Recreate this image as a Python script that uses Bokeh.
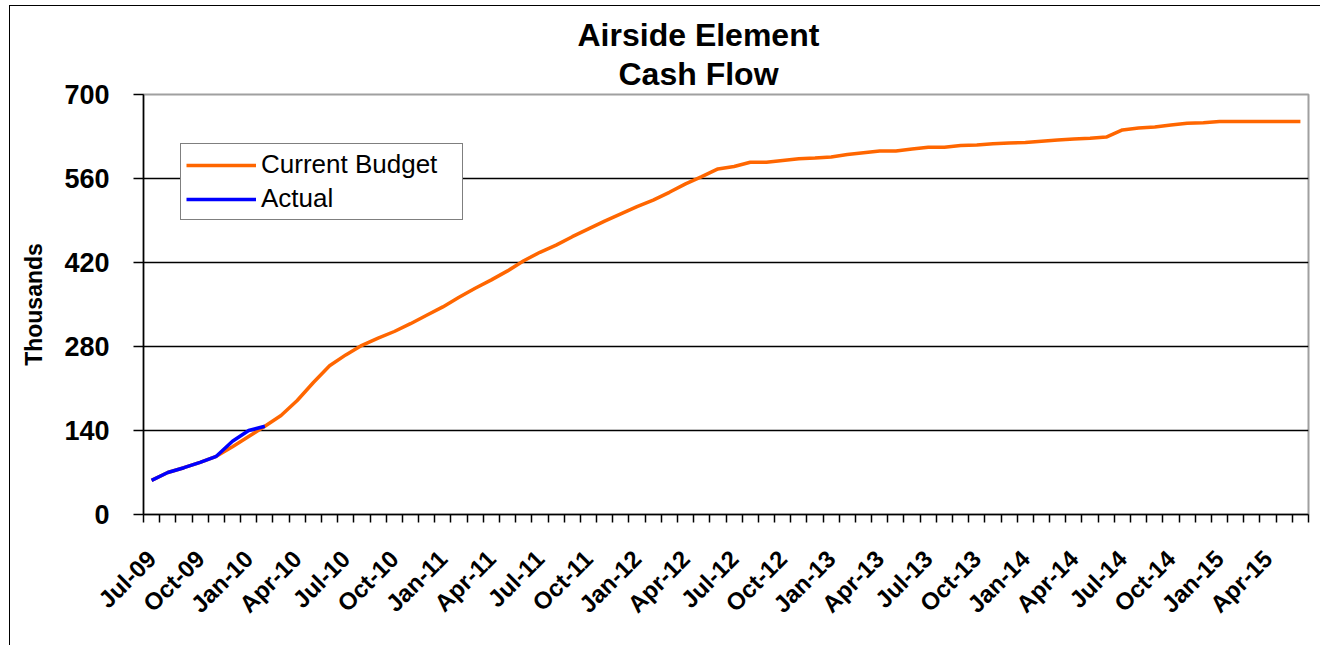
import math
from bokeh.plotting import figure
from bokeh.models import Range1d, FixedTicker, Legend, LegendItem, Title
from bokeh.embed import file_html
from bokeh.resources import INLINE

# ---- data ----
months = [
    "Jul-09", "Aug-09", "Sep-09", "Oct-09", "Nov-09", "Dec-09",
    "Jan-10", "Feb-10", "Mar-10", "Apr-10", "May-10", "Jun-10",
    "Jul-10", "Aug-10", "Sep-10", "Oct-10", "Nov-10", "Dec-10",
    "Jan-11", "Feb-11", "Mar-11", "Apr-11", "May-11", "Jun-11",
    "Jul-11", "Aug-11", "Sep-11", "Oct-11", "Nov-11", "Dec-11",
    "Jan-12", "Feb-12", "Mar-12", "Apr-12", "May-12", "Jun-12",
    "Jul-12", "Aug-12", "Sep-12", "Oct-12", "Nov-12", "Dec-12",
    "Jan-13", "Feb-13", "Mar-13", "Apr-13", "May-13", "Jun-13",
    "Jul-13", "Aug-13", "Sep-13", "Oct-13", "Nov-13", "Dec-13",
    "Jan-14", "Feb-14", "Mar-14", "Apr-14", "May-14", "Jun-14",
    "Jul-14", "Aug-14", "Sep-14", "Oct-14", "Nov-14", "Dec-14",
    "Jan-15", "Feb-15", "Mar-15", "Apr-15", "May-15", "Jun-15",
]

current_budget = [
    57, 70, 78, 87, 97, 113, 130, 147, 165, 190, 220, 248,
    266, 282, 294, 305, 318, 332, 346, 362, 377, 391, 406, 423,
    437, 449, 463, 476, 489, 501, 513, 524, 537, 551, 563, 576,
    580, 587, 587, 590, 593, 594, 596, 600, 603, 606, 606, 609,
    612, 612, 615, 616, 618, 619, 620, 622, 624, 626, 627, 629,
    641, 644, 646, 649, 652, 653, 655, 655, 655, 655, 655, 655,
]

actual = [57, 70, 78, 87, 97, 122, 140, 147]

y_ticks = [0, 140, 280, 420, 560, 700]
grid_ticks = [140, 280, 420, 560]
label_step = 3

FONT = "Liberation Sans"

n = len(months)
x_budget = list(range(n))
x_actual = list(range(len(actual)))

p = figure(
    width=1311, height=640,
    output_backend="svg", toolbar_location=None, title=None,
    x_range=Range1d(-0.5, n - 0.5), y_range=Range1d(0, 700),
    min_border_left=133, min_border_right=13,
    min_border_top=88, min_border_bottom=132,
    background_fill_color="white", border_fill_color="white",
)
p.styles = {
    "border-left": "1px solid #000000",
    "border-top": "1px solid #000000",
    "margin-left": "9px",
    "margin-top": "5px",
}

r_budget = p.line(x_budget, current_budget, line_color="#FF6600", line_width=3.5)
r_actual = p.line(x_actual, actual, line_color="#0000FF", line_width=3.5)

# titles (left-aligned with an offset so that they centre at the reference position)
t2 = Title(text="Cash Flow", align="left", offset=475,
           text_font=FONT, text_font_size="32px", text_font_style="bold",
           text_color="#000000", standoff=6)
p.add_layout(t2, "above")
t1 = Title(text="Airside Element", align="left", offset=434,
           text_font=FONT, text_font_size="32px", text_font_style="bold",
           text_color="#000000", standoff=-4)
p.add_layout(t1, "above")

# y axis
ya = p.yaxis[0]
ya.ticker = FixedTicker(ticks=y_ticks)
ya.major_tick_out = 10
ya.major_tick_in = 0
ya.minor_tick_out = 0
ya.minor_tick_in = 0
ya.axis_line_color = "#000000"
ya.axis_line_width = 1.5
ya.major_tick_line_color = "#000000"
ya.major_tick_line_width = 1.5
ya.major_label_text_font = FONT
ya.major_label_text_font_size = "27px"
ya.major_label_text_font_style = "bold"
ya.major_label_text_color = "#000000"
ya.major_label_standoff = 24
ya.axis_label = "Thousands"
ya.axis_label_text_font = FONT
ya.axis_label_text_font_size = "23px"
ya.axis_label_text_font_style = "bold"
ya.axis_label_text_color = "#000000"
ya.axis_label_standoff = 14

# x axis
xa = p.xaxis[0]
label_idx = list(range(0, n, label_step))
xa.ticker = FixedTicker(ticks=label_idx, minor_ticks=[k - 0.5 for k in range(n + 1)])
xa.major_label_overrides = {i: months[i] for i in label_idx}
xa.major_tick_out = 0
xa.major_tick_in = 0
xa.minor_tick_out = 8
xa.minor_tick_in = 0
xa.minor_tick_line_color = "#000000"
xa.minor_tick_line_width = 1.5
xa.axis_line_color = "#000000"
xa.axis_line_width = 1.5
xa.major_label_orientation = math.pi / 4
xa.major_label_text_font = FONT
xa.major_label_text_font_size = "24px"
xa.major_label_text_font_style = "bold"
xa.major_label_text_color = "#000000"
xa.major_label_standoff = 32

# grid
p.xgrid.visible = False
p.ygrid.ticker = FixedTicker(ticks=grid_ticks)
p.ygrid.grid_line_color = "#000000"
p.ygrid.grid_line_width = 1.5

p.outline_line_color = "#A0A0A0"
p.outline_line_width = 2

legend = Legend(
    items=[LegendItem(label="Current Budget", renderers=[r_budget]),
           LegendItem(label="Actual", renderers=[r_actual])],
    location=(37, 294), orientation="vertical",
    border_line_color="#000000", border_line_width=1.5,
    background_fill_color="white", background_fill_alpha=1.0,
    label_text_font=FONT, label_text_font_size="26px", label_text_color="#000000",
    glyph_width=70, glyph_height=30, label_height=30, label_width=196,
    label_standoff=5, padding=5, spacing=3, margin=0,
)
p.add_layout(legend)

open("out.html", "w").write(file_html(p, INLINE))
